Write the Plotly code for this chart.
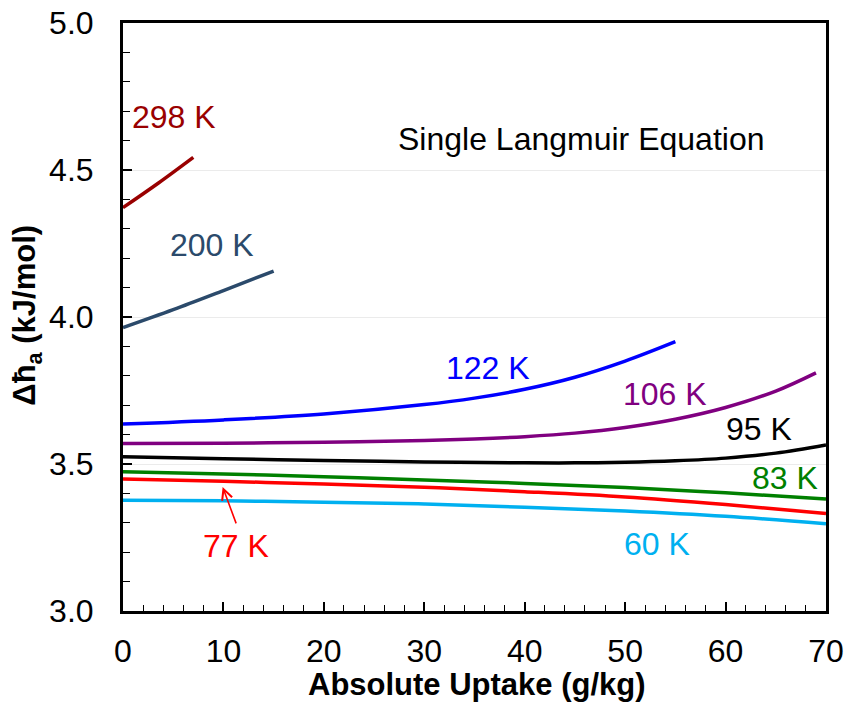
import plotly.graph_objects as go

# Isosteric heat of adsorption vs absolute uptake, one curve per temperature
uptake_298 = [0, 3.5, 7]
heat_298 = [4.372, 4.455, 4.543]

uptake_200 = [0, 5, 10, 15]
heat_200 = [3.964, 4.025, 4.090, 4.156]

uptake_122 = [0, 10, 20, 30, 35, 40, 45, 50, 55]
heat_122 = [3.636, 3.650, 3.670, 3.702, 3.724, 3.754, 3.795, 3.850, 3.916]

uptake_106 = [0, 10, 20, 30, 35, 40, 45, 50, 55, 60, 65, 69]
heat_106 = [3.570, 3.571, 3.574, 3.580, 3.585, 3.593, 3.605, 3.624, 3.652, 3.692, 3.748, 3.810]

uptake_95 = [0, 10, 20, 30, 40, 45, 50, 55, 60, 65, 70]
heat_95 = [3.525, 3.518, 3.512, 3.507, 3.504, 3.504, 3.506, 3.511, 3.520, 3.537, 3.565]

uptake_83 = [0, 10, 20, 30, 40, 50, 60, 70]
heat_83 = [3.474, 3.466, 3.457, 3.446, 3.434, 3.420, 3.402, 3.381]

uptake_77 = [0, 10, 20, 30, 40, 50, 60, 70]
heat_77 = [3.449, 3.441, 3.432, 3.421, 3.406, 3.388, 3.362, 3.332]

uptake_60 = [0, 10, 20, 30, 40, 50, 60, 70]
heat_60 = [3.377, 3.375, 3.370, 3.364, 3.353, 3.340, 3.322, 3.297]

series = [
    ("298 K", uptake_298, heat_298, "#990000"),
    ("200 K", uptake_200, heat_200, "#2B4A6B"),
    ("122 K", uptake_122, heat_122, "#0000FF"),
    ("106 K", uptake_106, heat_106, "#800080"),
    ("95 K", uptake_95, heat_95, "#000000"),
    ("83 K", uptake_83, heat_83, "#008000"),
    ("77 K", uptake_77, heat_77, "#FF0000"),
    ("60 K", uptake_60, heat_60, "#00B0F0"),
]

# Curve label positions (uptake, heat)
label_pos = {
    "298 K": (5.1, 4.68),
    "200 K": (8.9, 4.245),
    "122 K": (36.3, 3.827),
    "106 K": (54.0, 3.738),
    "95 K": (63.3, 3.619),
    "83 K": (65.95, 3.452),
    "77 K": (11.3, 3.221),
    "60 K": (53.2, 3.228),
}

FONT = "Arial, Liberation Sans, sans-serif"
fig = go.Figure()

for name, xs, ys, color in series:
    fig.add_trace(go.Scatter(
        x=xs, y=ys, mode="lines", name=name,
        line=dict(color=color, width=3.5, shape="spline", smoothing=1.0),
        showlegend=False,
    ))

annotations = []
for name, xs, ys, color in series:
    lx, ly = label_pos[name]
    annotations.append(dict(
        x=lx, y=ly, xref="x", yref="y", text=name, showarrow=False,
        xanchor="center", yanchor="middle",
        font=dict(family=FONT, size=32, color=color),
    ))

# Pointer from the 77 K label to its curve
annotations.append(dict(
    x=9.92, y=3.422, ax=11.32, ay=3.293, xref="x", yref="y",
    axref="x", ayref="y", text="", showarrow=True,
    arrowhead=5, arrowsize=1.3, arrowwidth=1.6, arrowcolor="#FF0000",
))

annotations.append(dict(
    x=45.6, y=4.605, xref="x", yref="y", text="Single Langmuir Equation",
    showarrow=False, xanchor="center", yanchor="middle",
    font=dict(family=FONT, size=32, color="#000000"),
))

annotations.append(dict(
    x=0.5035, y=-0.125, xref="paper", yref="paper",
    text="<b>Absolute Uptake (g/kg)</b>", showarrow=False,
    xanchor="center", yanchor="middle",
    font=dict(family=FONT, size=31, color="#000000"),
))
annotations.append(dict(
    x=-0.136, y=0.503, xref="paper", yref="paper", textangle=-90,
    text="<b>\u0394\u0127<sub>a</sub> (kJ/mol)</b>", showarrow=False,
    xanchor="center", yanchor="middle",
    font=dict(family=FONT, size=31, color="#000000"),
))

fig.update_layout(
    width=846, height=718,
    margin=dict(l=123, r=20, t=23, b=107, autoexpand=False),
    paper_bgcolor="white", plot_bgcolor="white",
    annotations=annotations,
    font=dict(family=FONT, color="#000000"),
)

fig.update_xaxes(
    range=[0, 70], tick0=0, dtick=10,
    ticks="inside", ticklen=9, tickwidth=1.5, tickcolor="#000000",
    minor=dict(dtick=2, ticks="inside", ticklen=6, tickwidth=1.2, tickcolor="#000000", showgrid=False),
    showline=True, linewidth=3, linecolor="#000000", mirror=True,
    showgrid=False, zeroline=False, automargin=False,
    tickfont=dict(family=FONT, size=32, color="#000000"),
    ticklabelstandoff=10,
)
fig.update_yaxes(
    range=[3.0, 5.0], tick0=3.0, dtick=0.5, tickformat=".1f",
    ticks="inside", ticklen=9, tickwidth=1.5, tickcolor="#000000",
    minor=dict(dtick=0.1, ticks="inside", ticklen=7, tickwidth=1.2, tickcolor="#000000", showgrid=False),
    showline=True, linewidth=3, linecolor="#000000", mirror=True,
    showgrid=True, gridcolor="#EBEBEB", gridwidth=1, zeroline=False, automargin=False,
    tickfont=dict(family=FONT, size=32, color="#000000"),
    ticklabelstandoff=20,
)

fig.write_html("out.html")
